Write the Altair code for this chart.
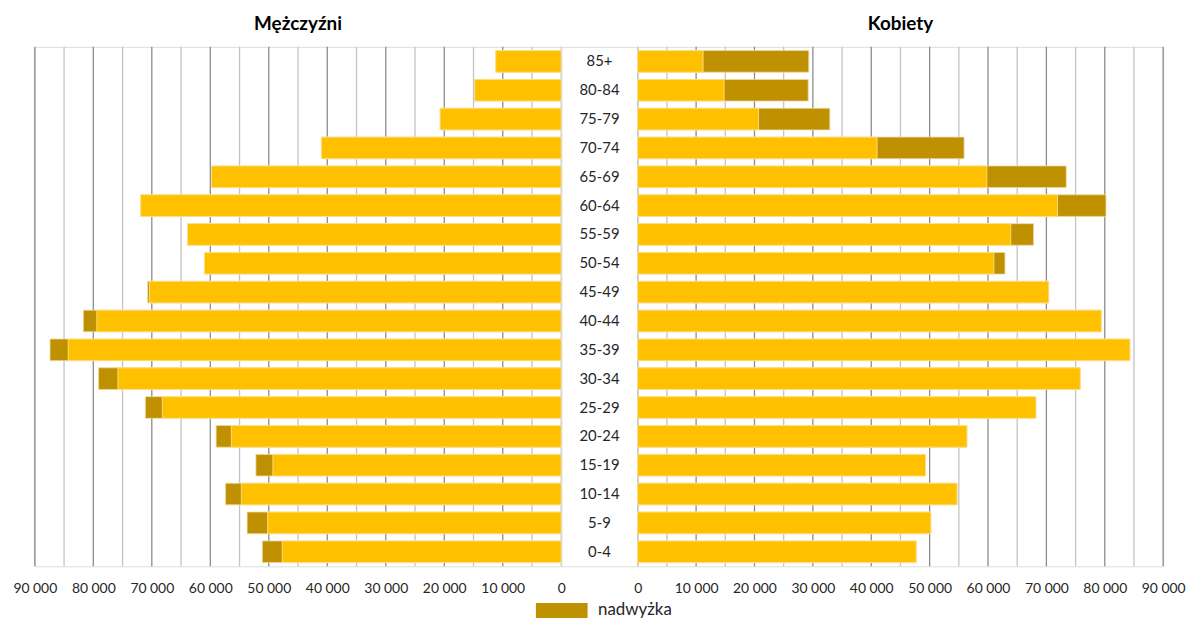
import altair as alt
import pandas as pd
import numpy as np

ages = ["0-4", "5-9", "10-14", "15-19", "20-24", "25-29", "30-34", "35-39", "40-44",
        "45-49", "50-54", "55-59", "60-64", "65-69", "70-74", "75-79", "80-84", "85+"]
men = [51100, 53700, 57400, 52200, 59000, 71100, 79100, 87400, 81700,
       70700, 61000, 63900, 71900, 59800, 41000, 20700, 14800, 11200]
women = [47700, 50200, 54700, 49300, 56400, 68200, 75800, 84300, 79400,
         70400, 62900, 67800, 80200, 73400, 55900, 32900, 29200, 29300]
grid_values = list(range(0, 90001, 5000))
label_values = list(range(0, 90001, 10000))
legend_label = "nadwyżka"

YELLOW = "#FFC000"
DARK = "#BF9000"
FONT = "Lato"
TXT = "#262626"

df = pd.DataFrame({"age": ages, "men": men, "women": women})
df["base"] = np.minimum(df["men"], df["women"])
df["lbl"] = legend_label

gdf = pd.DataFrame({"v": grid_values})
gdf["major"] = (gdf["v"] % 10000 == 0) & (gdf["v"] > 0)

order = ages[::-1]
H = 523
yenc = alt.Y("age:N", sort=order, axis=None,
             scale=alt.Scale(paddingInner=0.25, paddingOuter=0.13))

label_expr = "replace(format(datum.value, ','), ',', ' ')"


def xaxis():
    return alt.Axis(values=label_values, grid=False, labelExpr=label_expr, ticks=False,
                    domain=False, title=None, labelFlush=False, labelOverlap=False,
                    labelFont=FONT, labelFontSize=14, labelColor=TXT, labelPadding=15)


def panel(field, title, reverse, w, show_legend):
    xs = alt.Scale(domain=[0, 90000], reverse=reverse, nice=False)
    minor = alt.Chart(gdf).transform_filter("!datum.major").mark_rule(
        color="#c4c4c4", strokeWidth=1.3
    ).encode(x=alt.X("v:Q", scale=xs, axis=xaxis()))
    major = alt.Chart(gdf).transform_filter("datum.major").mark_rule(
        color="#8c8c8c", strokeWidth=1.3
    ).encode(x=alt.X("v:Q", scale=xs))
    base = alt.Chart(df)
    if show_legend:
        leg = alt.Legend(title=None, orient="none", legendX=522, legendY=559,
                         symbolType="M-3.47,-1H3.47V1H-3.47Z",
                         symbolSize=225, symbolStrokeWidth=0, symbolOpacity=1,
                         labelFont=FONT, labelFontSize=17, labelColor=TXT,
                         labelOffset=28)
    else:
        leg = None
    col = alt.Color("lbl:N", scale=alt.Scale(domain=[legend_label], range=[DARK]),
                    legend=leg)
    dark = base.mark_bar(stroke="#ecd9a0", strokeWidth=0.8).encode(
        x=alt.X(f"{field}:Q", scale=xs),
        y=yenc,
        color=col,
    )
    yel = base.mark_bar(color=YELLOW, stroke="#ffe699", strokeWidth=0.8).encode(
        x=alt.X("base:Q", scale=xs),
        y=yenc,
    )
    return alt.layer(minor, major, dark, yel).properties(
        width=w, height=H,
        title=alt.TitleParams(title, font=FONT, fontSize=19, fontWeight="bold",
                              color="#000000", offset=12, anchor="middle"))


left = panel("men", "Mężczyźni", True, 530, True)
right = panel("women", "Kobiety", False, 529, False)

mid = alt.Chart(df).mark_text(font=FONT, fontSize=15, color=TXT).encode(
    y=yenc,
    x=alt.value(38.5),
    text="age:N",
).properties(width=77, height=H)

chart = alt.hconcat(left, mid, right, spacing=0, bounds="flush").resolve_legend(
    color="independent"
).resolve_scale(color="independent").properties(
    padding={"left": 4, "top": 4, "right": 0, "bottom": 0}
).configure_view(stroke=None).configure(background="white")

chart.save("out.html", embed_options={"renderer": "svg", "actions": False})
